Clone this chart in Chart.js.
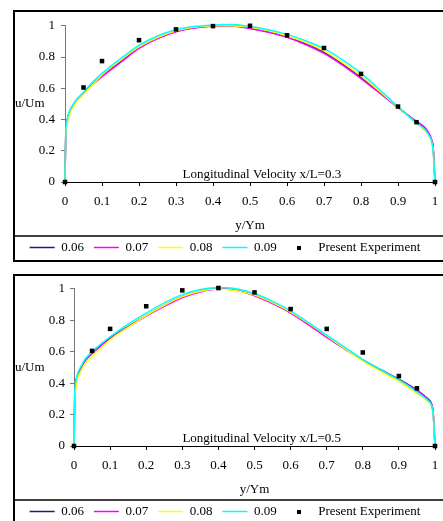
<!DOCTYPE html>
<html>
<head>
<meta charset="utf-8">
<script src="https://cdn.jsdelivr.net/npm/chart.js@4.4.1/dist/chart.umd.min.js"></script>
<style>
  html, body { margin: 0; padding: 0; background: #fff; overflow: hidden; }
  body { width: 443px; height: 521px; position: relative; }
  .frame { position: absolute; left: 13px; width: 440px; border: 2px solid #000; border-right: none; box-sizing: border-box; }
  #frameA { top: 10px; height: 252px; }
  #frameB { top: 274px; height: 260px; }
  canvas { position: absolute; left: 15px; }
  #chartA { top: 12px; }
  #chartB { top: 276px; }
</style>
</head>
<body>
<div class="frame" id="frameA"></div>
<div class="frame" id="frameB"></div>
<canvas id="chartA" width="440" height="252"></canvas>
<canvas id="chartB" width="440" height="252"></canvas>
<script>
// y/Ym stations of the computed profiles
const profileX = [0, 0.002, 0.005, 0.01, 0.02, 0.03, 0.05, 0.075, 0.1, 0.15, 0.2, 0.25, 0.3, 0.35, 0.4, 0.45, 0.5, 0.55, 0.6, 0.65, 0.7, 0.75, 0.8, 0.85, 0.9, 0.95, 0.97, 0.98, 0.99, 0.995, 1];

// x/L = 0.3
const a06 = [0, 0.30, 0.38, 0.43, 0.48, 0.52, 0.57, 0.63, 0.68, 0.77, 0.86, 0.92, 0.965, 0.988, 0.998, 1.0, 0.985, 0.962, 0.93, 0.885, 0.83, 0.755, 0.67, 0.575, 0.478, 0.385, 0.35, 0.32, 0.27, 0.22, 0];
const a07 = [0, 0.30, 0.38, 0.43, 0.48, 0.52, 0.565, 0.625, 0.675, 0.765, 0.855, 0.918, 0.962, 0.986, 0.997, 0.998, 0.982, 0.958, 0.926, 0.88, 0.823, 0.748, 0.662, 0.57, 0.475, 0.388, 0.355, 0.326, 0.278, 0.22, 0];
const a08 = [0, 0.28, 0.36, 0.42, 0.47, 0.51, 0.56, 0.625, 0.685, 0.78, 0.865, 0.925, 0.968, 0.99, 1.0, 1.0, 0.99, 0.968, 0.935, 0.895, 0.84, 0.765, 0.68, 0.582, 0.478, 0.375, 0.338, 0.308, 0.262, 0.2, 0];
const a09 = [0, 0.32, 0.39, 0.44, 0.49, 0.525, 0.575, 0.64, 0.695, 0.79, 0.875, 0.935, 0.975, 0.995, 1.005, 1.008, 0.995, 0.975, 0.945, 0.905, 0.855, 0.782, 0.697, 0.592, 0.482, 0.378, 0.342, 0.312, 0.265, 0.2, 0];

// x/L = 0.5
const b06 = [0, 0.30, 0.40, 0.45, 0.50, 0.54, 0.59, 0.64, 0.685, 0.76, 0.83, 0.895, 0.95, 0.985, 1.0, 0.99, 0.96, 0.91, 0.85, 0.775, 0.695, 0.62, 0.548, 0.485, 0.425, 0.355, 0.32, 0.30, 0.27, 0.21, 0];
const b07 = [0, 0.30, 0.40, 0.45, 0.50, 0.54, 0.588, 0.638, 0.682, 0.756, 0.826, 0.888, 0.944, 0.98, 0.998, 0.99, 0.956, 0.906, 0.846, 0.771, 0.691, 0.617, 0.545, 0.482, 0.422, 0.352, 0.318, 0.298, 0.268, 0.21, 0];
const b08 = [0, 0.27, 0.37, 0.43, 0.48, 0.52, 0.57, 0.625, 0.675, 0.755, 0.83, 0.895, 0.95, 0.985, 0.998, 0.988, 0.96, 0.912, 0.852, 0.78, 0.7, 0.62, 0.54, 0.474, 0.41, 0.335, 0.305, 0.285, 0.255, 0.2, 0];
const b09 = [0, 0.32, 0.41, 0.46, 0.51, 0.55, 0.60, 0.65, 0.695, 0.775, 0.845, 0.91, 0.963, 0.995, 1.008, 1.0, 0.97, 0.92, 0.86, 0.785, 0.705, 0.628, 0.55, 0.485, 0.42, 0.345, 0.31, 0.29, 0.26, 0.2, 0];

// measurements
const expX = [0, 0.05, 0.1, 0.2, 0.3, 0.4, 0.5, 0.6, 0.7, 0.8, 0.9, 0.95, 1];
const expA = [0, 0.605, 0.774, 0.908, 0.977, 0.998, 1.0, 0.939, 0.858, 0.692, 0.483, 0.383, 0];
const expB = [0, 0.605, 0.745, 0.889, 0.99, 1.005, 0.977, 0.871, 0.745, 0.595, 0.445, 0.367, 0];

const seriesLabels = ["0.06", "0.07", "0.08", "0.09"];
const seriesColors = ["#1a1a8c", "#ff00ff", "#ffff00", "#00ffff"];
const expLabel = "Present Experiment";

Chart.defaults.font.family = "'Liberation Serif', 'Times New Roman', serif";
Chart.defaults.font.size = 13;
Chart.defaults.color = "#000";

// little black square for the legend entry of the measurements
const markerImg = document.createElement("canvas");
markerImg.width = 4;
markerImg.height = 4;
markerImg.getContext("2d").fillRect(0, 0, 4, 4);

const fmt = (v) => String(Math.round(v * 10) / 10);

const decor = {
  id: "decor",
  afterDraw(chart, args, opts) {
    const { ctx, chartArea, scales } = chart;
    ctx.save();
    ctx.fillStyle = "#000";
    ctx.font = "13px 'Liberation Serif'";
    ctx.textAlign = "left";
    ctx.textBaseline = "middle";
    ctx.fillText("u/Um", 0, (chartArea.top + chartArea.bottom) / 2);
    ctx.textAlign = "center";
    ctx.textBaseline = "alphabetic";
    ctx.fillText(opts.note, scales.x.getPixelForValue(opts.noteX), scales.y.getPixelForValue(0) - 4);
    const sepY = scales.x.bottom + 5;
    ctx.strokeStyle = "#000";
    ctx.lineWidth = 1.5;
    ctx.beginPath();
    ctx.moveTo(0, sepY);
    ctx.lineTo(chart.width, sepY);
    ctx.stroke();
    ctx.restore();
  },
};

const makeChart = (canvasId, lines, exp, note, noteX, yWidth, yPad) => {
  const datasets = lines.map((vals, i) => ({
    label: seriesLabels[i],
    data: profileX.map((x, j) => ({ x, y: vals[j] })),
    borderColor: seriesColors[i],
    backgroundColor: seriesColors[i],
    borderWidth: 1.5,
    pointRadius: 0,
    pointStyle: "line",
    cubicInterpolationMode: "monotone",
    clip: false,
    order: lines.length - i,
  }));
  datasets.push({
    label: expLabel,
    data: expX.map((x, j) => ({ x, y: exp[j] })),
    showLine: false,
    pointStyle: "rect",
    pointRadius: 3.2,
    backgroundColor: "#000",
    borderColor: "#000",
    borderWidth: 0,
    clip: false,
    order: 0,
  });

  return new Chart(document.getElementById(canvasId).getContext("2d"), {
    type: "line",
    data: { datasets },
    plugins: [decor],
    options: {
      responsive: false,
      animation: false,
      devicePixelRatio: 1,
      layout: { padding: { top: 10, right: 20, bottom: 0, left: 0 } },
      scales: {
        x: {
          type: "linear",
          min: 0,
          max: 1,
          afterFit: (axis) => {
            axis.height = 49;
          },
          ticks: { stepSize: 0.1, padding: 8, maxRotation: 0, callback: fmt },
          grid: { drawOnChartArea: false, tickLength: 4, color: "#000" },
          border: { color: "#000", width: 1 },
          title: { display: true, text: "y/Ym", padding: { top: 0, bottom: -2 } },
        },
        y: {
          min: 0,
          max: 1,
          afterFit: (axis) => {
            axis.width = yWidth;
          },
          ticks: { stepSize: 0.2, padding: yPad, callback: fmt },
          grid: { drawOnChartArea: false, tickLength: 4, color: "#777" },
          border: { color: "#777", width: 1 },
        },
      },
      plugins: {
        legend: {
          position: "bottom",
          labels: {
            usePointStyle: true,
            pointStyleWidth: 25,
            padding: 10,
            sort: (a, b) => a.datasetIndex - b.datasetIndex,
            generateLabels: (chart) => {
              const items = Chart.defaults.plugins.legend.labels.generateLabels(chart);
              items.forEach((it) => {
                if (it.datasetIndex < seriesLabels.length) {
                  it.pointStyle = "line";
                  it.lineWidth = 1.5;
                } else {
                  it.pointStyle = markerImg;
                }
              });
              return items;
            },
          },
        },
        tooltip: { enabled: false },
        decor: { note, noteX },
      },
    },
  });
};

makeChart("chartA", [a06, a07, a08, a09], expA, "Longitudinal Velocity x/L=0.3", 0.532, 50, 6);
makeChart("chartB", [b06, b07, b08, b09], expB, "Longitudinal Velocity x/L=0.5", 0.52, 59, 5);
</script>
</body>
</html>
